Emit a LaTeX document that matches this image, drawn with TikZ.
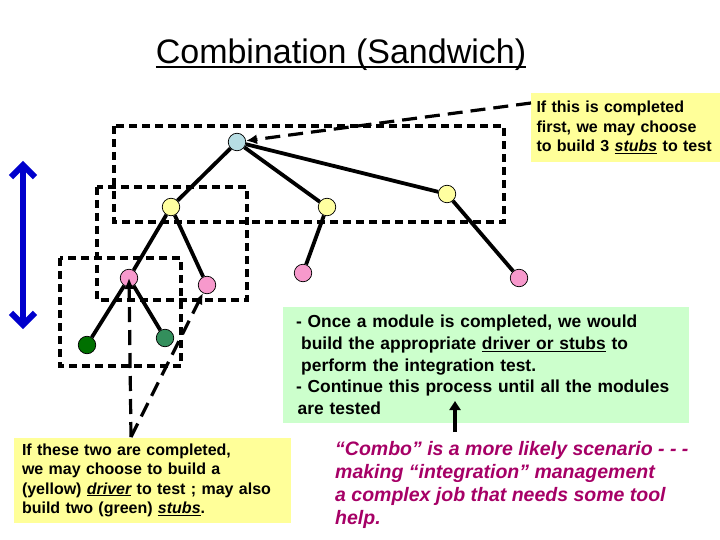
\documentclass[tikz,border=0pt]{standalone}
\usepackage{fontspec}
\setmainfont{Liberation Sans}
\usetikzlibrary{arrows.meta}
\definecolor{rootc}{RGB}{183,221,227}
\definecolor{yelc}{RGB}{255,255,160}
\definecolor{pinkc}{RGB}{247,153,204}
\definecolor{dgreen}{RGB}{0,112,0}
\definecolor{mgreen}{RGB}{51,143,92}
\definecolor{ybox}{RGB}{255,255,153}
\definecolor{gbox}{RGB}{204,255,204}
\definecolor{magc}{RGB}{166,0,102}
\definecolor{bluec}{RGB}{0,0,204}
\newcommand\myul[1]{\setbox0\hbox{#1}\rlap{\rule[-0.13em]{\wd0}{0.07em}}\box0\relax}
\begin{document}
\begin{tikzpicture}[x=1pt,y=-1pt,
  mod/.style={circle,draw=black,line width=0.7pt,minimum size=17.5pt,inner sep=0pt},
  edge/.style={line width=3.8pt},
  dbox/.style={line width=3.4pt,dash pattern=on 8pt off 5pt},
  darrow/.style={line width=3.2pt,dash pattern=on 15pt off 8pt,-{Latex[length=11pt,width=10pt]}},
  note/.style={inner ysep=0pt,align=left,font=\fontsize{16}{19.3}\selectfont\bfseries}]
\useasboundingbox (0,0) rectangle (720,540);
% title
\node (title) at (341,55) {\fontsize{34}{39}\selectfont\myul{Combination (Sandwich)}};
% dashed boxes
\draw[dbox] (114,126) rectangle (504,222);
\draw[dbox] (97,187) rectangle (247,300);
\draw[dbox] (60,258) rectangle (181,366);
% modules
\node[mod,fill=rootc] (r) at (237,142) {};
\node[mod,fill=yelc] (y1) at (171,207) {};
\node[mod,fill=yelc] (y2) at (327,207) {};
\node[mod,fill=yelc] (y3) at (447,194) {};
\node[mod,fill=pinkc] (p1) at (129,278) {};
\node[mod,fill=pinkc] (p2) at (207,285) {};
\node[mod,fill=pinkc] (p3) at (303,273) {};
\node[mod,fill=pinkc] (p4) at (519,278) {};
\node[mod,fill=dgreen] (g1) at (87,345) {};
\node[mod,fill=mgreen] (g2) at (165,338) {};
% edges
\draw[edge] (r) -- (y1);
\draw[edge] (r) -- (y2);
\draw[edge] (r) -- (y3);
\draw[edge] (y1) -- (p1);
\draw[edge] (y1) -- (p2);
\draw[edge] (y2) -- (p3);
\draw[edge] (y3) -- (p4);
\draw[edge] (p1) -- (g1);
\draw[edge] (p1) -- (g2);
% notes
\node[note,fill=ybox,minimum width=189pt,minimum height=69pt,text width=178pt,inner xsep=5.5pt] (n1) at (625.5,127.5)
  {If this is completed\\first, we may choose\\to build 3 \myul{\itshape stubs} to test};
\node[note,fill=ybox,minimum width=277pt,minimum height=85pt,text width=261pt,inner xsep=8pt] (n2) at (152.5,480.5)
  {If these two are completed,\\we may choose to build a\\(yellow) \myul{\itshape driver} to test ; may also\\build two (green) \myul{\itshape stubs}.};
\node[fill=gbox,minimum width=406pt,minimum height=116pt,text width=380pt,inner xsep=13pt,inner ysep=0pt,align=left,
  font=\fontsize{17.4}{21.7}\selectfont\bfseries] (n3) at (486,365)
  {- Once a module is completed, we would\\
   \hspace*{0.3em}build the appropriate \myul{driver or stubs} to\\
   \hspace*{0.3em}perform the integration test.\\
   - Continue this process until all the modules\\
   \hspace*{0.1em}are tested};
\node[anchor=west,align=left,text=magc,inner sep=0pt,
  font=\fontsize{19.5}{23.3}\selectfont\bfseries\itshape] (n4) at (335,485)
  {“Combo” is a more likely scenario - - -\\making “integration” management\\a complex job that needs some tool\\help.};
% connectors
\coordinate (c1) at (531,103);
\coordinate (c2) at (131,437);
\draw[darrow] (c1) -- (r);
\draw[darrow] (c2) -- (p1.center);
\draw[darrow] (c2) -- (p2);
\coordinate (b1) at (23,161);
\coordinate (b2) at (23,329);
\draw[bluec,line width=6pt,{Straight Barb[length=12pt,width=24pt,line width=6pt]}-{Straight Barb[length=12pt,width=24pt,line width=6pt]}] (b1) -- (b2);
\coordinate (k1) at (455,432);
\coordinate (k2) at (455,401);
\draw[line width=3.2pt,-{Triangle[length=9pt,width=11pt]}] (k1) -- (k2);
\end{tikzpicture}
\end{document}
